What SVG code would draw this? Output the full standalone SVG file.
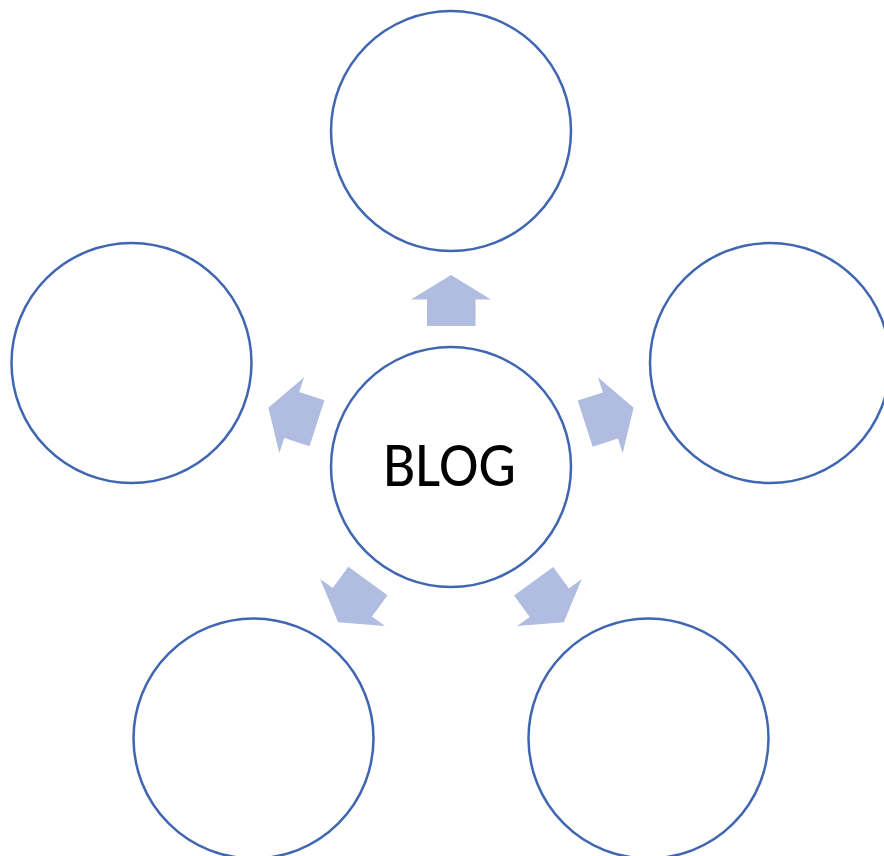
<svg xmlns="http://www.w3.org/2000/svg" width="884" height="856" viewBox="0 0 884 856">
<style>
.c{fill:#FFFFFF;stroke:#4066B2;stroke-width:2.5}
.a{fill:#B0BDE0;stroke:none}
.t{font-family:Carlito,"Open Sans","Liberation Sans",sans-serif;font-size:63px;fill:#000000}
</style>
<defs>
<path id="arr" d="M451,275 L491,299.5 L475.5,299.5 L475.5,326 L427,326 L427,299.5 L411,299.5 Z"/>
</defs>
<g id="connectors">
<use href="#arr" class="a"/>
<use href="#arr" class="a" transform="rotate(72 451 467)"/>
<use href="#arr" class="a" transform="rotate(144 451 467)"/>
<use href="#arr" class="a" transform="rotate(216 451 467)"/>
<use href="#arr" class="a" transform="rotate(288 451 467)"/>
</g>
<g id="node-top"><circle class="c" cx="451" cy="131" r="120"/></g>
<g id="node-right"><circle class="c" cx="770" cy="363" r="120"/></g>
<g id="node-bottom-right"><circle class="c" cx="648.5" cy="738.5" r="120"/></g>
<g id="node-bottom-left"><circle class="c" cx="253.5" cy="738.5" r="120"/></g>
<g id="node-left"><circle class="c" cx="131.5" cy="363" r="120"/></g>
<g id="node-blog"><circle class="c" cx="451" cy="467" r="120"/>
<text class="t" x="383" y="486" textLength="133" lengthAdjust="spacingAndGlyphs">BLOG</text></g>
</svg>
